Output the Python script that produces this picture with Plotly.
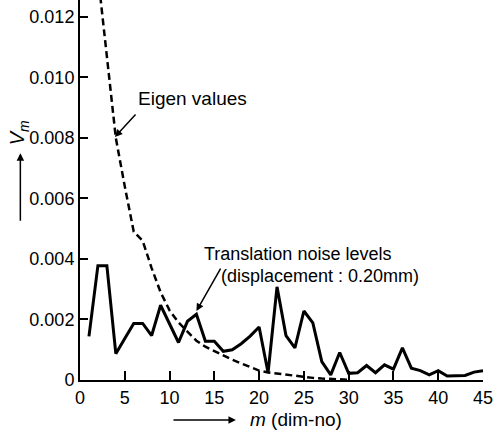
import plotly.graph_objects as go

# ---- data ----
m_noise = list(range(1, 46))
noise_levels = [
    0.00144, 0.00378, 0.00378, 0.00087, 0.00137, 0.00187, 0.00187, 0.00147, 0.00247, 0.00185,
    0.00124, 0.00194, 0.00217, 0.00128, 0.00128, 0.00095, 0.00100, 0.00120, 0.00145, 0.00175,
    0.00024, 0.00308, 0.00147, 0.00106, 0.00228, 0.00189, 0.00061, 0.00017, 0.00091, 0.00022,
    0.00024, 0.00048, 0.00024, 0.00050, 0.00036, 0.00106, 0.00039, 0.00031, 0.00017, 0.00031,
    0.00013, 0.00014, 0.00015, 0.00026, 0.00031,
]

m_eigen = list(range(2, 31))
eigen_values = [
    0.0134, 0.0106, 0.0080, 0.0064, 0.0049, 0.0046, 0.0037, 0.0029, 0.0023, 0.0019,
    0.0016, 0.0013, 0.0011, 0.00095, 0.0008, 0.00067, 0.00055, 0.00042, 0.00031, 0.00025,
    0.00021, 0.00017, 0.00013, 0.00010, 0.00007, 0.00005, 0.00003, 0.00002, 0.00001,
]

x_tickvals = [0, 5, 10, 15, 20, 25, 30, 35, 40, 45]
x_ticktext = ["0", "5", "10", "15", "20", "25", "30", "35", "40", "45"]
y_tickvals = [0, 0.002, 0.004, 0.006, 0.008, 0.010, 0.012]
y_ticktext = ["0", "0.002", "0.004", "0.006", "0.008", "0.010", "0.012"]

FONT = "Liberation Sans, Arial, sans-serif"

fig = go.Figure()
fig.add_trace(go.Scatter(
    x=m_eigen, y=eigen_values, mode="lines",
    line=dict(color="black", width=2.5, dash="7px,4px"),
    showlegend=False, hoverinfo="skip",
))
fig.add_trace(go.Scatter(
    x=m_noise, y=noise_levels, mode="lines",
    line=dict(color="black", width=3),
    showlegend=False, hoverinfo="skip",
))

C = dict(xanchor="center", yanchor="middle")
annotations = [
    # Eigen values label and arrow
    dict(x=12.6, y=0.0093, xref="x", yref="y", text="Eigen values", showarrow=False,
         font=dict(size=19, family=FONT, color="black"), **C),
    dict(x=3.9, y=0.00803, xref="x", yref="y", text="", showarrow=True,
         ax=22, ay=-24, arrowhead=2, arrowsize=1, arrowwidth=1.5, arrowcolor="black"),
    # Translation noise levels label and arrow
    dict(x=24.3, y=0.00418, xref="x", yref="y", text="Translation noise levels", showarrow=False,
         font=dict(size=18, family=FONT, color="black"), **C),
    dict(x=26.8, y=0.00345, xref="x", yref="y", text="(displacement : 0.20mm)", showarrow=False,
         font=dict(size=18, family=FONT, color="black"), **C),
    dict(x=13.0, y=0.00228, xref="x", yref="y", text="", showarrow=True,
         ax=25, ay=-44, arrowhead=2, arrowsize=1, arrowwidth=1.5, arrowcolor="black"),
    # y-axis title with arrow
    dict(x=-0.153, y=0.65, xref="paper", yref="paper", text="<i>V</i><sub><i>m</i></sub>",
         textangle=-90, showarrow=False, font=dict(size=20, family=FONT, color="black"), **C),
    dict(x=-0.148, y=0.597, xref="paper", yref="paper", text="", showarrow=True,
         ax=0, ay=69, arrowhead=2, arrowsize=1, arrowwidth=1.5, arrowcolor="black"),
    # x-axis title with arrow
    dict(x=0.535, y=-0.105, xref="paper", yref="paper", text="<i>m</i> (dim-no)",
         showarrow=False, font=dict(size=19, family=FONT, color="black"), **C),
    dict(x=0.387, y=-0.105, xref="paper", yref="paper", text="", showarrow=True,
         ax=-64, ay=0, arrowhead=2, arrowsize=1, arrowwidth=1.5, arrowcolor="black"),
]

fig.update_layout(
    width=493, height=436,
    margin=dict(l=80, r=10, t=0, b=56),
    paper_bgcolor="white", plot_bgcolor="white",
    font=dict(family=FONT, size=19, color="black"),
    annotations=annotations,
    xaxis=dict(
        range=[0, 45], tickvals=x_tickvals, ticktext=x_ticktext,
        ticks="inside", ticklen=9, tickwidth=1.5, tickcolor="black",
        showline=True, linecolor="black", linewidth=2,
        showgrid=False, zeroline=False, tickfont=dict(size=18),
        automargin=False, ticklabeloverflow="allow",
    ),
    yaxis=dict(
        range=[0, 0.01256], tickvals=y_tickvals, ticktext=y_ticktext,
        ticks="inside", ticklen=8, tickwidth=1.5, tickcolor="black",
        showline=True, linecolor="black", linewidth=2,
        showgrid=False, zeroline=False, tickfont=dict(size=18),
        automargin=False, ticklabeloverflow="allow",
    ),
)

fig.write_html("out.html", config={"displayModeBar": False},
               post_script="document.body.style.margin='0';")
